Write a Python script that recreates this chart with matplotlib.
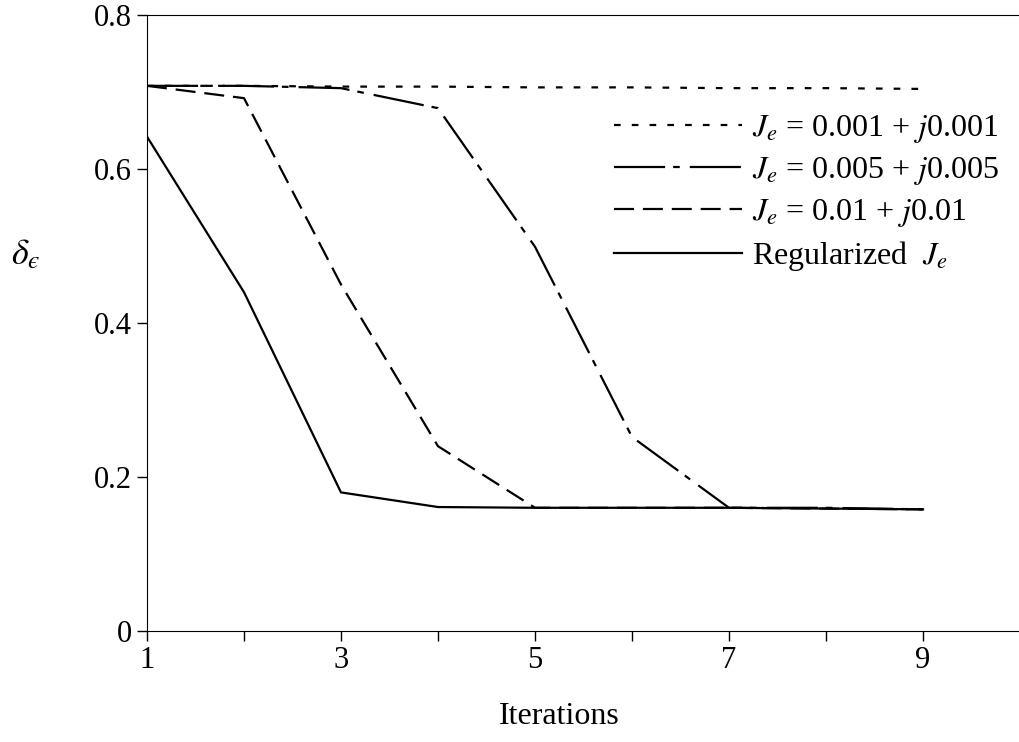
import matplotlib.pyplot as plt
import numpy as np

plt.rcParams['font.family'] = 'Liberation Serif'
plt.rcParams['mathtext.fontset'] = 'stix'

iterations = [1, 2, 3, 4, 5, 6, 7, 8, 9]
je_0001 = [0.708, 0.708, 0.707, 0.707, 0.706, 0.706, 0.705, 0.705, 0.704]
je_0005 = [0.708, 0.708, 0.705, 0.679, 0.499, 0.252, 0.16, 0.16, 0.158]
je_001 = [0.708, 0.692, 0.45, 0.24, 0.16, 0.16, 0.16, 0.159, 0.158]
je_reg = [0.642, 0.44, 0.18, 0.161, 0.16, 0.16, 0.16, 0.159, 0.158]

labels = [r'$J_e$ = 0.001 + $j$0.001', r'$J_e$ = 0.005 + $j$0.005',
          r'$J_e$ = 0.01 + $j$0.01', r'Regularized  $J_e$']

fig = plt.figure(figsize=(10.2, 7.42), dpi=100)
ax = fig.add_axes([147/1020, 1 - 631/742, 1 - 147/1020, 616/742])

ax.plot(iterations, je_0001, color='black', lw=1.6, dashes=(3, 5), label=labels[0])
ax.plot(iterations, je_0005, color='black', lw=1.6, dashes=(23, 3.6, 3, 4.5), label=labels[1])
ax.plot(iterations, je_001, color='black', lw=1.6, dashes=(9, 4), label=labels[2])
ax.plot(iterations, je_reg, color='black', lw=1.6, label=labels[3])

ax.set_xlim(1, 10)
ax.set_ylim(0, 0.8)
ax.set_xticks(range(1, 11))
ax.set_xticklabels([str(i) if i % 2 == 1 else '' for i in range(1, 11)])
ax.set_yticks([0, 0.2, 0.4, 0.6, 0.8])
ax.set_yticklabels(['0', '0.2', '0.4', '0.6', '0.8'])
ax.tick_params(labelsize=22, length=7, width=1, direction='out', pad=4)
ax.spines['right'].set_visible(False)

ax.set_xlabel('Iterations', fontsize=23)
ax.xaxis.set_label_coords(0.472, -0.115)
ax.set_ylabel(r'$\delta_ϵ$', fontsize=26, rotation=0, va='center', ha='center')
ax.yaxis.set_label_coords(-0.139, 0.61)

leg = ax.legend(loc='upper left', bbox_to_anchor=(0.52, 0.862), frameon=False,
                fontsize=23, handlelength=4.0, handletextpad=0.32, labelspacing=0.32,
                borderaxespad=0)

fig.savefig('out.png', dpi=100)
